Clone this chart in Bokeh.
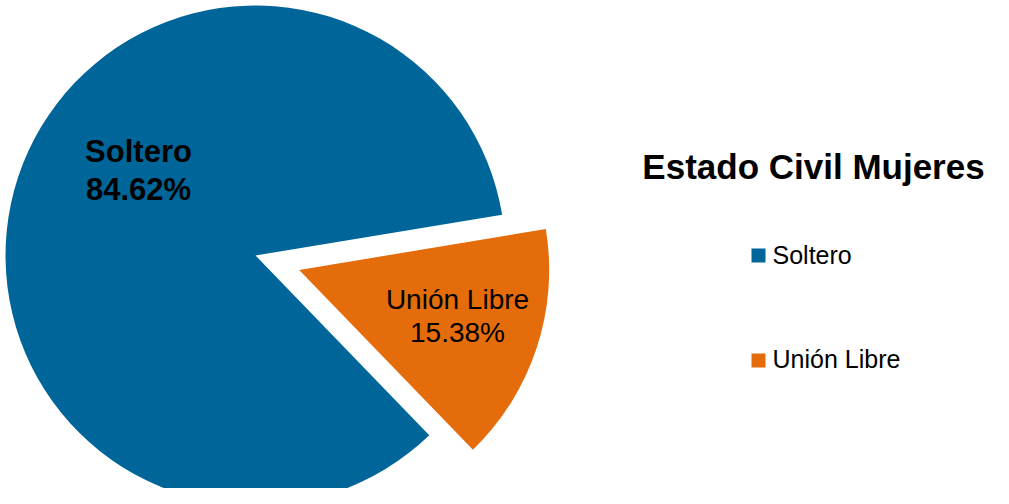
import math
from bokeh.plotting import figure
from bokeh.models import Range1d, ColumnDataSource
from bokeh.core.properties import value
from bokeh.embed import file_html
from bokeh.resources import INLINE

# ---- data ----
categories = ["Soltero", "Unión Libre"]
percentages = [84.62, 15.38]
colors = ["#006699", "#E46C0A"]
title_text = "Estado Civil Mujeres"

# ---- layout constants (pixel coordinates, y measured downward from the top) ----
W, H = 993, 488
CX, CY = 255, 255          # pie centre
R = 250                    # pie radius
FIRST_ANGLE = 9.4          # degrees, anticlockwise start of first slice
EXPLODE = [0, 46]          # px offset of each slice
DY = -10                   # baseline correction for svg text
LABEL_X = [138, 457]
LABEL_NAME_Y = [161, 309]
LABEL_PCT_Y = [199, 342]
LABEL_BOLD = ["bold", "normal"]
LABEL_SIZE = ["31px", "28px"]
LEG_SQ_X = 758
LEG_SQ_Y = [255, 360]
LEG_TX_X = 772
LEG_TX_Y = [264, 368]
TITLE_X, TITLE_Y = 813, 176
FONT = value("Liberation Sans")


def fy(y):
    return H - y


def ty(y):
    return H - (y + DY)


p = figure(width=W, height=H, output_backend="svg", toolbar_location=None,
           x_range=Range1d(0, W), y_range=Range1d(0, H),
           x_axis_type=None, y_axis_type=None, min_border=0)
p.grid.visible = False
p.outline_line_color = None
p.background_fill_color = "white"
p.border_fill_color = "white"

# wedges
total = sum(percentages)
starts, ends, xs, ys = [], [], [], []
a = math.radians(FIRST_ANGLE)
for v, off in zip(percentages, EXPLODE):
    span = 2 * math.pi * v / total
    s, e = a, a + span
    mid = (s + e) / 2
    starts.append(s)
    ends.append(e)
    xs.append(CX + off * math.cos(mid))
    ys.append(fy(CY) + off * math.sin(mid))
    a = e

src = ColumnDataSource(dict(x=xs, y=ys, start=starts, end=ends, color=colors, cat=categories))
p.wedge(x="x", y="y", radius=R, start_angle="start", end_angle="end",
        fill_color="color", line_color=None, source=src)

# data labels
for i, (cat, v) in enumerate(zip(categories, percentages)):
    p.text(x=[LABEL_X[i]], y=[ty(LABEL_NAME_Y[i])], text=[cat],
           text_font=FONT, text_font_size=LABEL_SIZE[i], text_font_style=LABEL_BOLD[i],
           text_align="center", text_baseline="alphabetic", text_color="black")
    p.text(x=[LABEL_X[i]], y=[ty(LABEL_PCT_Y[i])], text=[f"{v:.2f}%"],
           text_font=FONT, text_font_size=LABEL_SIZE[i], text_font_style=LABEL_BOLD[i],
           text_align="center", text_baseline="alphabetic", text_color="black")

# title
p.text(x=[TITLE_X], y=[ty(TITLE_Y)], text=[title_text], text_font=FONT, text_font_size="35px",
       text_font_style="bold", text_align="center", text_baseline="alphabetic",
       text_color="black")

# legend
p.rect(x=[LEG_SQ_X] * len(categories), y=[fy(y) for y in LEG_SQ_Y], width=14, height=14,
       fill_color=colors, line_color=None)
p.text(x=[LEG_TX_X] * len(categories), y=[ty(y) for y in LEG_TX_Y], text=categories,
       text_font=FONT, text_font_size="25px", text_align="left",
       text_baseline="alphabetic", text_color="black")

open("out.html", "w").write(file_html(p, INLINE))
